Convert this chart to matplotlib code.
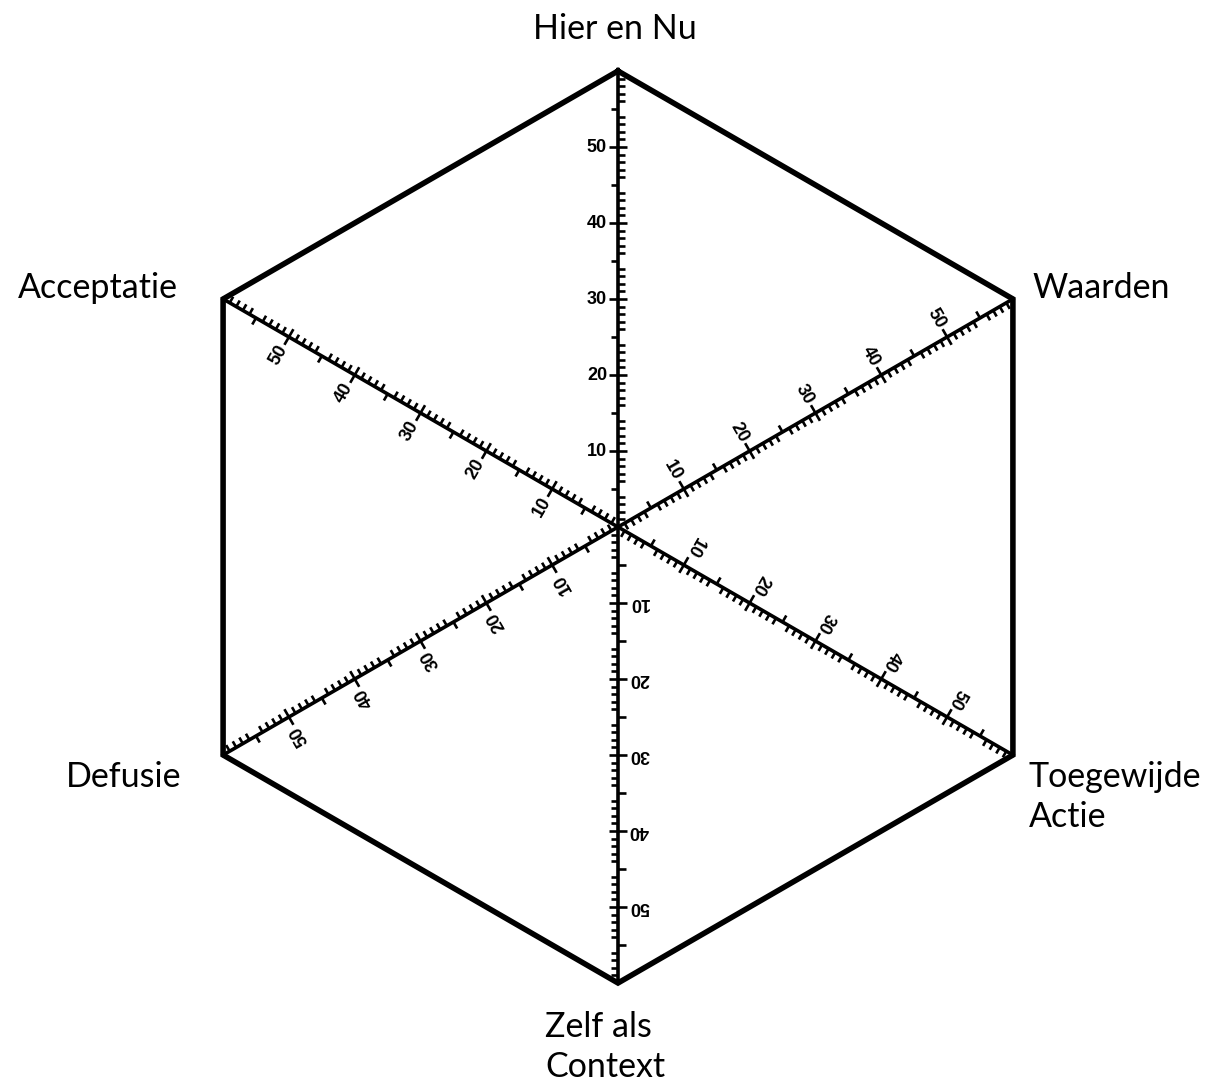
import numpy as np
import matplotlib.pyplot as plt
from matplotlib.collections import LineCollection

# axes of the hexagon (clockwise from the top)
categories = ["Hier en Nu", "Waarden", "Toegewijde\nActie",
              "Zelf als\nContext", "Defusie", "Acceptatie"]
angles_deg = [90, 30, -30, -90, -150, 150]
axis_max = 60
major_values = [10, 20, 30, 40, 50]
major_labels = ["10", "20", "30", "40", "50"]

# label placement relative to each vertex (pixels) and alignment
label_offsets = [(-3, 42), (20, 11), (16, -42), (-13, -64), (-42, -22), (-45, 11)]
label_ha = ["center", "left", "left", "center", "right", "right"]
label_ma = ["center", "left", "left", "left", "right", "right"]

S = 456 / axis_max  # pixels per unit
W, H = 1218, 1084
CX, CY = 618, 527

fig = plt.figure(figsize=(W / 100, H / 100), dpi=100)
ax = fig.add_axes([0, 0, 1, 1])
ax.set_xlim(-CX / S, (W - CX) / S)
ax.set_ylim(-(H - CY) / S, CY / S)
ax.axis("off")

th = np.deg2rad(angles_deg)
vx = axis_max * np.cos(th)
vy = axis_max * np.sin(th)

# hexagon outline
ax.plot(np.append(vx, vx[0]), np.append(vy, vy[0]), color="black", lw=4,
        solid_joinstyle="miter", zorder=3)

minor_len = 7 / S
mid_len = 7.5 / S
major_in = 9 / S
major_out = 9 / S
lab_dist = 11 / S

for i, t in enumerate(th):
    u = np.array([np.cos(t), np.sin(t)])
    n = np.array([-np.sin(t), np.cos(t)])
    ax.plot([0, vx[i]], [0, vy[i]], color="black", lw=2.6, zorder=2)
    segs = []
    for v in range(1, axis_max):
        p = u * v
        if v % 10 == 0:
            segs.append([p - n * major_out, p + n * major_in])
        elif v % 5 == 0:
            segs.append([p, p + n * mid_len])
        else:
            segs.append([p, p - n * minor_len])
    ax.add_collection(LineCollection(segs, colors="black", linewidths=1.9,
                                     capstyle="butt", zorder=2))
    rot = angles_deg[i] - 90
    for v, lab in zip(major_values, major_labels):
        p = u * v + n * lab_dist
        ax.text(p[0], p[1], lab, rotation=rot, rotation_mode="anchor",
                ha="right", va="center", fontsize=13, fontweight="bold",
                family="Liberation Sans", color="black")

    ax.annotate(categories[i], (vx[i], vy[i]), xytext=label_offsets[i],
                textcoords="offset pixels", ha=label_ha[i], va="center",
                fontsize=24.5, family="Lato", linespacing=1.32,
                multialignment=label_ma[i])

fig.savefig("out.png", dpi=100, facecolor="white")
